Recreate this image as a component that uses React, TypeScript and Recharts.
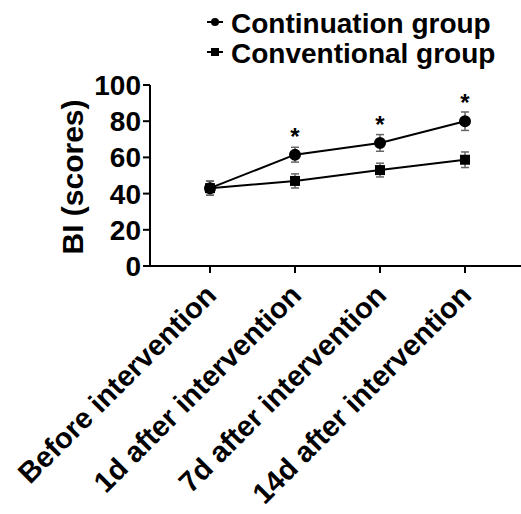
import React from "react";
import {
  LineChart,
  Line,
  XAxis,
  YAxis,
  ErrorBar,
  LabelList,
  Legend
} from "recharts";

const categories = [
  "Before intervention",
  "1d after intervention",
  "7d after intervention",
  "14d after intervention"
];
const continuation = [43, 61.5, 68, 80];
const continuationErr = [3.9, 4.1, 4.6, 5.1];
const conventional = [43, 47, 53, 58.7];
const conventionalErr = [3.9, 3.9, 3.8, 4.3];
const significance = ["", "*", "*", "*"];
const yTicks = [0, 20, 40, 60, 80, 100];

const FONT = '"Liberation Sans", Arial, sans-serif';

const data = categories.map((name, i) => ({
  name,
  continuation: continuation[i],
  continuationErr: continuationErr[i],
  conventional: conventional[i],
  conventionalErr: conventionalErr[i],
  sig: significance[i]
}));

const SquareDot = (props: any) => {
  const { cx, cy } = props;
  if (cx == null || cy == null) return null;
  return <rect x={cx - 5} y={cy - 5} width={10} height={10} fill="#000" />;
};

const YTick = (props: any) => {
  const { x, y, payload } = props;
  return (
    <text x={x} y={y + 10} textAnchor="end" fontFamily={FONT} fontWeight="bold" fontSize={28} fill="#000">
      {payload.value}
    </text>
  );
};

const XTick = (props: any) => {
  const { x, y, payload } = props;
  const ax = x + 8;
  const ay = y + 22;
  return (
    <text
      x={ax}
      y={ay}
      textAnchor="end"
      transform={`rotate(-45, ${ax}, ${ay})`}
      fontFamily={FONT}
      fontWeight="bold"
      fontSize={29}
      fill="#000"
    >
      {payload.value}
    </text>
  );
};

const Star = (props: any) => {
  const { x, y, value } = props;
  if (!value) return null;
  return (
    <text x={x} y={y - 10} textAnchor="middle" fontFamily={FONT} fontWeight="bold" fontSize={24} fill="#000">
      {value}
    </text>
  );
};

const LegendBox = () => (
  <svg width={320} height={70}>
    <line x1={7} y1={22} x2={23} y2={22} stroke="#000" strokeWidth={2} />
    <circle cx={15} cy={22} r={4} fill="#000" />
    <text x={31} y={33} fontFamily={FONT} fontWeight="bold" fontSize={28} fill="#000">
      Continuation group
    </text>
    <line x1={7} y1={52} x2={23} y2={52} stroke="#000" strokeWidth={2} />
    <rect x={11} y={48} width={8} height={8} fill="#000" />
    <text x={31} y={63} fontFamily={FONT} fontWeight="bold" fontSize={28} fill="#000">
      Conventional group
    </text>
  </svg>
);

const YLabel = () => (
  <text
    x={83}
    y={177}
    textAnchor="middle"
    transform="rotate(-90, 83, 177)"
    fontFamily={FONT}
    fontWeight="bold"
    fontSize={30}
    fill="#000"
  >
    BI (scores)
  </text>
);

export default function App() {
  return (
    <div style={{ position: "absolute", left: 0, top: 0, background: "#fff" }}>
      <LineChart width={521} height={514} data={data} margin={{ top: 85, right: 0, bottom: 0, left: 0 }}>
        <XAxis
          dataKey="name"
          height={248}
          padding={{ left: 60, right: 56 }}
          axisLine={{ stroke: "#000", strokeWidth: 2 }}
          tickLine={{ stroke: "#000", strokeWidth: 2 }}
          tickSize={7}
          tick={<XTick />}
          interval={0}
        />
        <YAxis
          width={150}
          domain={[0, 100]}
          ticks={yTicks}
          axisLine={{ stroke: "#000", strokeWidth: 2 }}
          tickLine={{ stroke: "#000", strokeWidth: 2 }}
          tickSize={7}
          tick={<YTick />}
          label={<YLabel />}
        />
        <Legend
          layout="vertical"
          align="center"
          verticalAlign="middle"
          wrapperStyle={{ position: "absolute", left: 200, top: 0, width: 320 }}
          content={() => <LegendBox />}
        />
        <Line
          dataKey="continuation"
          name="Continuation group"
          stroke="#000"
          strokeWidth={2}
          dot={{ r: 5, fill: "#000", stroke: "#000" }}
          activeDot={false}
          isAnimationActive={false}
        >
          <ErrorBar dataKey="continuationErr" direction="y" width={4} stroke="#666" strokeWidth={1.5} />
          <LabelList dataKey="sig" content={<Star />} />
        </Line>
        <Line
          dataKey="conventional"
          name="Conventional group"
          stroke="#000"
          strokeWidth={2}
          dot={<SquareDot />}
          activeDot={false}
          isAnimationActive={false}
        >
          <ErrorBar dataKey="conventionalErr" direction="y" width={4} stroke="#666" strokeWidth={1.5} />
        </Line>
      </LineChart>
    </div>
  );
}
